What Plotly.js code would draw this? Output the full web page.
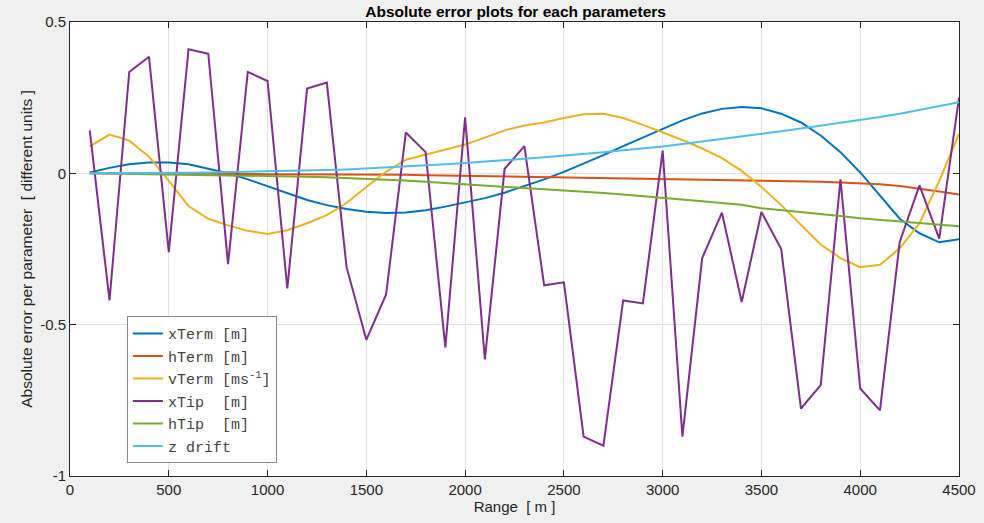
<!DOCTYPE html>
<html>
<head>
<meta charset="utf-8">
<script src="https://cdn.plot.ly/plotly-3.0.1.min.js"></script>
<style>html,body{margin:0;padding:0;background:#f0f0f0;}#chart{width:984px;height:523px;}</style>
</head>
<body>
<div id="chart"></div>
<script>
// Range [m]
const range = [100,200,300,400,500,600,700,800,900,1000,1100,1200,1300,1400,1500,1600,1700,1800,1900,2000,2100,2200,2300,2400,2500,2600,2700,2800,2900,3000,3100,3200,3300,3400,3500,3600,3700,3800,3900,4000,4100,4200,4300,4400,4500];

const xTerm = [0.003,0.018,0.03,0.036,0.036,0.03,0.015,0.0,-0.02,-0.042,-0.065,-0.088,-0.105,-0.118,-0.127,-0.131,-0.129,-0.122,-0.11,-0.097,-0.082,-0.064,-0.043,-0.02,0.005,0.032,0.06,0.09,0.118,0.148,0.175,0.198,0.213,0.219,0.215,0.197,0.168,0.125,0.07,0.003,-0.075,-0.15,-0.198,-0.228,-0.218];

const hTerm = [0,0,0,0,-0.001,-0.001,-0.001,-0.002,-0.002,-0.003,-0.003,-0.003,-0.003,-0.003,-0.003,-0.004,-0.005,-0.006,-0.007,-0.008,-0.009,-0.010,-0.011,-0.012,-0.013,-0.014,-0.015,-0.016,-0.017,-0.018,-0.019,-0.020,-0.021,-0.022,-0.024,-0.026,-0.027,-0.028,-0.030,-0.032,-0.036,-0.042,-0.05,-0.06,-0.07];

const vTerm = [0.089,0.128,0.108,0.055,-0.025,-0.108,-0.15,-0.172,-0.19,-0.2,-0.188,-0.165,-0.138,-0.098,-0.045,0.005,0.045,0.062,0.078,0.095,0.118,0.142,0.158,0.168,0.183,0.195,0.197,0.183,0.16,0.135,0.11,0.082,0.05,0.008,-0.045,-0.105,-0.17,-0.235,-0.28,-0.31,-0.302,-0.248,-0.165,-0.025,0.13];

const xTip = [0.142,-0.42,0.335,0.385,-0.26,0.41,0.395,-0.30,0.335,0.305,-0.38,0.28,0.30,-0.31,-0.55,-0.40,0.135,0.07,-0.575,0.185,-0.615,0.015,0.09,-0.37,-0.36,-0.87,-0.90,-0.42,-0.43,0.075,-0.87,-0.28,-0.13,-0.425,-0.128,-0.25,-0.777,-0.70,-0.02,-0.711,-0.783,-0.227,-0.04,-0.216,0.25];

const hTip = [0,-0.001,-0.001,-0.002,-0.002,-0.003,-0.004,-0.005,-0.006,-0.007,-0.009,-0.011,-0.013,-0.015,-0.018,-0.021,-0.024,-0.028,-0.031,-0.035,-0.039,-0.043,-0.047,-0.051,-0.055,-0.06,-0.065,-0.07,-0.075,-0.08,-0.086,-0.092,-0.098,-0.104,-0.115,-0.121,-0.128,-0.135,-0.141,-0.148,-0.153,-0.158,-0.164,-0.17,-0.175];

const zDrift = [0,0,0,0.001,0.001,0.002,0.003,0.004,0.005,0.006,0.007,0.009,0.011,0.013,0.016,0.019,0.022,0.026,0.030,0.034,0.038,0.043,0.048,0.053,0.058,0.064,0.070,0.076,0.082,0.089,0.097,0.105,0.114,0.122,0.131,0.139,0.148,0.157,0.166,0.175,0.186,0.197,0.209,0.221,0.235];

const seriesNames = ["xTerm [m]","hTerm [m]","vTerm [ms<sup>-1</sup>]","xTip\u00a0\u00a0[m]","hTip\u00a0\u00a0[m]","z drift"];
const seriesColors = ["#0072BD","#D95319","#EDB120","#7E2F8E","#77AC30","#4DBEEE"];
const seriesData = [xTerm,hTerm,vTerm,xTip,hTip,zDrift];

const traces = seriesData.map((d,i)=>({
  x: range, y: d, type:'scatter', mode:'lines', name: seriesNames[i],
  line:{color: seriesColors[i], width: 2}
}));

const baseFont = 'Liberation Sans, Arial, sans-serif';
const axisCommon = {
  showline:true, linecolor:'#262626', linewidth:1, mirror:'ticks',
  ticks:'inside', ticklen:6, tickcolor:'#262626',
  showgrid:true, gridcolor:'#e3e3e3', zeroline:false,
  tickfont:{family:baseFont, size:15, color:'#262626'}
};

const layout = {
  width:984, height:523,
  paper_bgcolor:'#f0f0f0', plot_bgcolor:'#ffffff',
  margin:{l:70, r:25, t:22, b:47},
  title:{text:'<b>Absolute error plots for each parameters</b>', x:0.524, xanchor:'center', y:0.978, yanchor:'middle',
    font:{family:baseFont, size:15.5, color:'#000'}},
  xaxis:Object.assign({}, axisCommon, {range:[0,4500], tickvals:[0,500,1000,1500,2000,2500,3000,3500,4000,4500],
    title:{text:'Range\u00a0\u00a0[ m ]', standoff:4, font:{family:baseFont, size:15, color:'#262626'}}}),
  yaxis:Object.assign({}, axisCommon, {range:[-1,0.5], tickvals:[-1,-0.5,0,0.5], ticktext:['-1','-0.5','0','0.5'],
    title:{text:'Absolute error per parameter\u00a0\u00a0[ different units ]', standoff:3, font:{family:baseFont, size:15.5, color:'#262626'}}}),
  showlegend:true,
  legend:{x:0.064, y:0.352, xanchor:'left', yanchor:'top', bgcolor:'#ffffff', bordercolor:'#8a8a8a', borderwidth:1,
    font:{family:'Liberation Mono, DejaVu Sans Mono, monospace', size:15, color:'#444'}, itemwidth:30, tracegroupgap:0}
};

Plotly.newPlot('chart', traces, layout, {displayModeBar:false, staticPlot:true});
</script>
</body>
</html>
